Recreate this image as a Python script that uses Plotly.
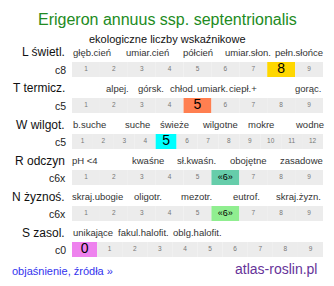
import plotly.graph_objects as go

W, H = 334, 286

title = "Erigeron annuus ssp. septentrionalis"
subtitle = "ekologiczne liczby wskaźnikowe"

row_names = ["L świetl.", "T termicz.", "W wilgot.", "R odczyn", "N żyznoś.", "S zasol."]
row_codes = ["c8", "c5", "c5", "c6x", "c6x", "c0"]
row_scales = [
    list(range(1, 10)),
    list(range(1, 10)),
    list(range(1, 13)),
    list(range(1, 10)),
    list(range(1, 10)),
    list(range(0, 10)),
]
row_values = [8, 5, 5, 6, 6, 0]
row_value_text = ["8", "5", "5", "«6»", "«6»", "0"]
row_colors = ["#ffd700", "#ff7f50", "#00ffff", "#66cdaa", "#90ee90", "#ee82ee"]

row_categories = [
    ["głęb.cień", "umiar.cień", "półcień", "umiar.słon.", "pełn.słońce"],
    ["alpej.", "górsk.", "chłod.", "umiark.", "ciepł.+", "gorąc."],
    ["b.suche", "suche", "świeże", "wilgotne", "mokre", "wodne"],
    ["pH <4", "kwaśne", "sł.kwaśn.", "obojętne", "zasadowe"],
    ["skraj.ubogie", "oligotr.", "mezotr.", "eutrof.", "skraj.żyzn."],
    ["unikające", "fakul.halofit.", "oblg.halofit."],
]

# layout (pixel positions of category words, strips)
cat_px = [
    [92, 147, 197.5, 247.5, 298.5],
    [117, 151, 182.5, 212.5, 243, 307.5],
    [89, 137, 174, 219.5, 261, 309],
    [85, 147.5, 196.5, 247.5, 301],
    [97.5, 147.5, 196, 246.5, 298.5],
    [92.5, 143, 197.5],
]
strip_top = [62, 98, 134, 170, 206, 242]
strip_h = 15
x0_px, x1_px = 72, 323

FONT = "Liberation Sans, Arial, sans-serif"

fig = go.Figure()
annotations = []

def py(p):
    return 1 - p / H

for i in range(6):
    ax = "" if i == 0 else str(i + 1)
    scale = row_scales[i]
    colors = [row_colors[i] if v == row_values[i] else "#ececec" for v in scale]
    fig.add_trace(go.Bar(
        x=scale, y=[1] * len(scale), width=1, marker=dict(color=colors, line=dict(width=0)),
        xaxis="x" + ax, yaxis="y" + ax, hoverinfo="skip", showlegend=False,
    ))
    texts = [row_value_text[i] if v == row_values[i] else str(v) for v in scale]
    big = 14 if len(row_value_text[i]) == 1 else 9
    sizes = [big if v == row_values[i] else 6.5 for v in scale]
    tcolors = ["#000000" if v == row_values[i] else "#777777" for v in scale]
    fig.add_trace(go.Scatter(
        x=scale, y=[0.5] * len(scale), mode="text", text=texts,
        textfont=dict(size=sizes, color=tcolors, family=FONT),
        textposition="middle center",
        xaxis="x" + ax, yaxis="y" + ax, hoverinfo="skip", showlegend=False,
    ))
    top = strip_top[i]
    fig.update_layout(**{
        "xaxis" + ax: dict(domain=[x0_px / W, x1_px / W], range=[scale[0] - 0.5, scale[-1] + 0.5],
                           visible=False, fixedrange=True, anchor="y" + ax),
        "yaxis" + ax: dict(domain=[py(top + strip_h), py(top)], range=[0, 1],
                           visible=False, fixedrange=True, anchor="x" + ax),
    })
    # row name
    annotations.append(dict(text=row_names[i], x=67 / W, y=py(top - 9.5), xref="paper", yref="paper",
                            xanchor="right", yanchor="middle", showarrow=False,
                            font=dict(size=12, color="#111111", family=FONT)))
    annotations.append(dict(text=row_codes[i], x=68 / W, y=py(top + strip_h / 2), xref="paper", yref="paper",
                            xanchor="right", yanchor="middle", showarrow=False,
                            font=dict(size=10.5, color="#222222", family=FONT)))
    for lab, px in zip(row_categories[i], cat_px[i]):
        annotations.append(dict(text=lab, x=px / W, y=py(top - 9.5), xref="paper", yref="paper",
                                xanchor="center", yanchor="middle", showarrow=False,
                                font=dict(size=9.5, color="#333333", family=FONT)))

annotations.append(dict(text=title, x=0.5, y=py(20), xref="paper", yref="paper", xanchor="center",
                        yanchor="middle", showarrow=False, font=dict(size=16, color="#228b22", family=FONT)))
annotations.append(dict(text=subtitle, x=167 / W, y=py(39), xref="paper", yref="paper", xanchor="center",
                        yanchor="middle", showarrow=False, font=dict(size=11, color="#111111", family=FONT)))
annotations.append(dict(text="objaśnienie, źródła »", x=10 / W, y=py(270.5), xref="paper", yref="paper",
                        xanchor="left", yanchor="middle", showarrow=False,
                        font=dict(size=11, color="#3333ee", family=FONT)))
annotations.append(dict(text="atlas-roslin.pl", x=319 / W, y=py(268.5), xref="paper", yref="paper",
                        xanchor="right", yanchor="middle", showarrow=False,
                        font=dict(size=14, color="#663399", family=FONT)))

fig.update_layout(width=W, height=H, margin=dict(l=0, r=0, t=0, b=0),
                  paper_bgcolor="white", plot_bgcolor="white", annotations=annotations,
                  barmode="overlay", showlegend=False)

fig.write_html("out.html", config={"displayModeBar": False})
